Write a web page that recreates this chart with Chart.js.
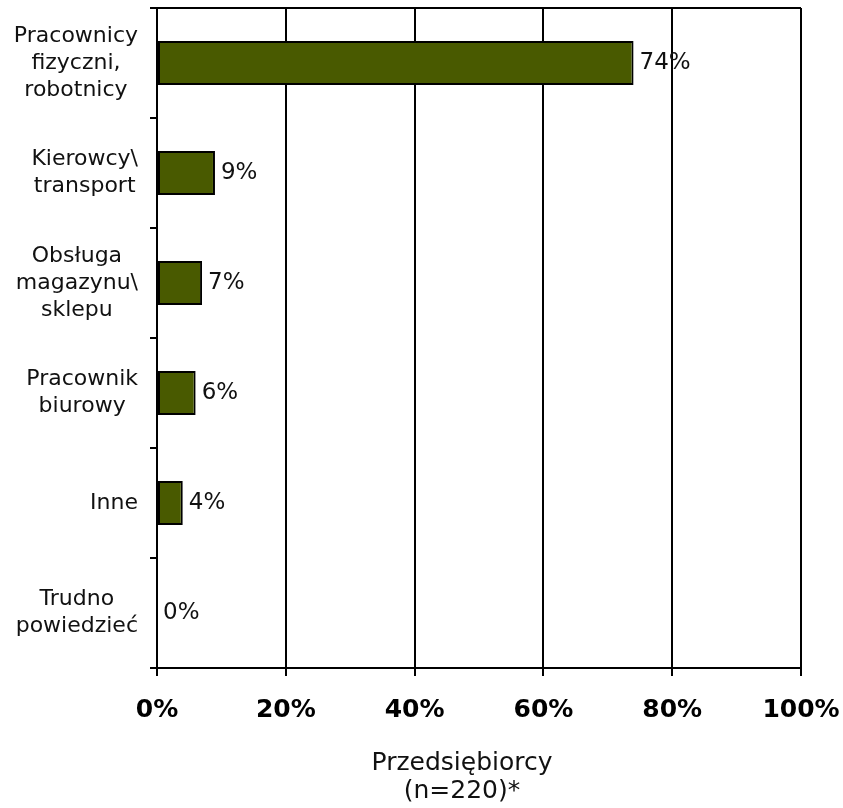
<!DOCTYPE html>
<html>
<head>
<meta charset="utf-8">
<script src="https://cdn.jsdelivr.net/npm/chart.js@4/dist/chart.umd.min.js"></script>
<style>
  html, body { margin: 0; padding: 0; background: #ffffff; }
  #wrap { width: 843px; height: 808px; }
</style>
</head>
<body>
<div id="wrap"><canvas id="chart" width="843" height="808"></canvas></div>
<script>
// Category labels (each entry is a list of lines)
const categories = [
  ['Pracownicy', 'fizyczni,', 'robotnicy'],
  ['Kierowcy\\', 'transport'],
  ['Obsługa', 'magazynu\\', 'sklepu'],
  ['Pracownik', 'biurowy'],
  ['Inne'],
  ['Trudno', 'powiedzieć']
];
// Share of answers, percent
const shares = [74, 9, 7, 6, 4, 0];
// Horizontal axis ticks
const axisTicks = [0, 20, 40, 60, 80, 100];
const axisTitle = ['Przedsiębiorcy', '(n=220)*'];

const FONT = '"DejaVu Sans", Verdana, sans-serif';
const BAR_COLOR = '#495a00';

// Multi-line category labels: block right-aligned, lines centred inside it
const categoryLabels = {
  id: 'categoryLabels',
  afterDraw(chart) {
    const { ctx } = chart;
    const y = chart.scales.y;
    const size = 22, lh = 27, rightEdge = 138;
    ctx.save();
    ctx.font = size + 'px ' + FONT;
    ctx.fillStyle = '#111111';
    ctx.textAlign = 'center';
    ctx.textBaseline = 'middle';
    categories.forEach((lines, i) => {
      const cy = y.getPixelForValue(i);
      const w = Math.max(...lines.map(l => ctx.measureText(l).width));
      const cx = rightEdge - w / 2;
      const y0 = cy - (lines.length - 1) * lh / 2;
      lines.forEach((l, k) => ctx.fillText(l, cx, y0 + k * lh));
    });
    ctx.restore();
  }
};

// Value labels at the end of each bar
const valueLabels = {
  id: 'valueLabels',
  afterDatasetsDraw(chart) {
    const { ctx } = chart;
    const meta = chart.getDatasetMeta(0);
    ctx.save();
    ctx.font = '23px ' + FONT;
    ctx.fillStyle = '#111111';
    ctx.textAlign = 'left';
    ctx.textBaseline = 'middle';
    meta.data.forEach((bar, i) => {
      ctx.fillText(shares[i] + '%', bar.x + 6, bar.y);
    });
    ctx.restore();
  }
};

// Axis title below the horizontal axis
const bottomTitle = {
  id: 'bottomTitle',
  afterDraw(chart) {
    const { ctx } = chart;
    ctx.save();
    ctx.font = '25px ' + FONT;
    ctx.fillStyle = '#111111';
    ctx.textAlign = 'center';
    ctx.textBaseline = 'middle';
    axisTitle.forEach((t, k) => ctx.fillText(t, 462, 763 + k * 28));
    ctx.restore();
  }
};

new Chart(document.getElementById('chart'), {
  type: 'bar',
  data: {
    labels: categories.map(c => c.join(' ')),
    datasets: [{
      data: shares,
      backgroundColor: BAR_COLOR,
      borderColor: '#000000',
      borderWidth: 2,
      borderSkipped: false,
      barPercentage: 0.4,
      categoryPercentage: 1.0
    }]
  },
  options: {
    indexAxis: 'y',
    responsive: false,
    animation: false,
    layout: { padding: { top: 8, right: 42, left: 0, bottom: 0 } },
    plugins: {
      legend: { display: false },
      tooltip: { enabled: false }
    },
    scales: {
      x: {
        min: axisTicks[0],
        max: axisTicks[axisTicks.length - 1],
        afterBuildTicks(scale) { scale.ticks = axisTicks.map(v => ({ value: v })); },
        afterFit(scale) {
          scale.height = 140;
          scale.paddingLeft = 0;
          scale.paddingRight = 0;
        },
        grid: { color: '#000000', lineWidth: 2, tickLength: 8, tickColor: '#000000' },
        border: { color: '#000000', width: 2 },
        ticks: {
          callback: v => v + '%',
          color: '#000000',
          font: { family: FONT, size: 25, weight: 'bold' },
          padding: 19,
          maxRotation: 0
        }
      },
      y: {
        afterFit(scale) { scale.width = 157; },
        grid: {
          offset: true,
          drawOnChartArea: true,
          color: ctx => (ctx.index === 0 ? '#000000' : 'rgba(0,0,0,0)'),
          tickColor: '#000000',
          lineWidth: 2,
          tickLength: 7
        },
        border: { color: '#000000', width: 2 },
        ticks: { display: false }
      }
    }
  },
  plugins: [categoryLabels, valueLabels, bottomTitle]
});
</script>
</body>
</html>
